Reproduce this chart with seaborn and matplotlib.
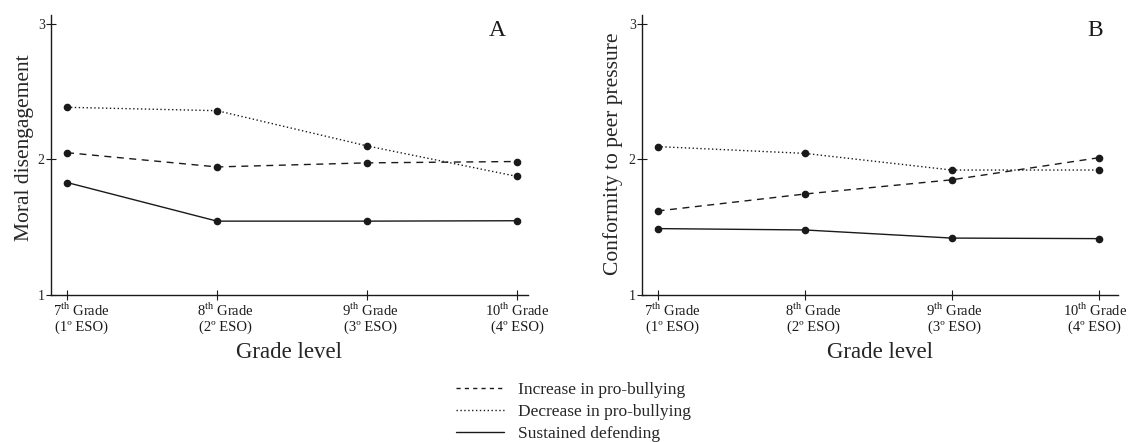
import pandas as pd
import seaborn as sns
import matplotlib.pyplot as plt
from matplotlib.lines import Line2D

# Valores
grades = [0, 1, 2, 3]
grade_labels = [r"7$^{\mathrm{th}}$ Grade" + "\n(1º ESO)",
                r"8$^{\mathrm{th}}$ Grade" + "\n(2º ESO)",
                r"9$^{\mathrm{th}}$ Grade" + "\n(3º ESO)",
                r"10$^{\mathrm{th}}$ Grade" + "\n(4º ESO)"]
groups = ["Increase in pro-bullying", "Decrease in pro-bullying", "Sustained defending"]

moral_increase = [2.05, 1.945, 1.975, 1.985]
moral_decrease = [2.385, 2.36, 2.10, 1.875]
moral_defend = [1.83, 1.545, 1.545, 1.548]

conf_increase = [1.62, 1.745, 1.85, 2.013]
conf_decrease = [2.095, 2.045, 1.922, 1.922]
conf_defend = [1.49, 1.48, 1.42, 1.416]


def to_long(series):
    rows = []
    for g, vals in zip(groups, series):
        for x, v in zip(grades, vals):
            rows.append({"grade": x, "value": v, "group": g})
    return pd.DataFrame(rows)


df_a = to_long([moral_increase, moral_decrease, moral_defend])
df_b = to_long([conf_increase, conf_decrease, conf_defend])

sns.set_theme(style="ticks")
plt.rcParams['font.family'] = ['Liberation Serif', 'DejaVu Serif']
plt.rcParams['mathtext.fontset'] = 'custom'
plt.rcParams['mathtext.rm'] = 'Liberation Serif'

ink = "#1a1a1a"
dashes = {groups[0]: (5, 4), groups[1]: (1, 1.8), groups[2]: ""}
markers = {g: "o" for g in groups}

fig = plt.figure(figsize=(11.29, 4.42), dpi=100)
# ejes colocados en píxeles: A 51-528, B 642-1118, y de 15 a 295
ax_a = fig.add_axes([51 / 1129, 1 - 295 / 442, 477 / 1129, 280 / 442])
ax_b = fig.add_axes([642 / 1129, 1 - 295 / 442, 476 / 1129, 280 / 442])

# (ejes, datos, etiqueta y, letra, xlim, x letra, posición etiqueta y, desplaz. etiquetas x en px)
panels = [(ax_a, df_a, "Moral disengagement", "A", (-0.107, 3.073), 0.935, (-0.036, 0.527), [14, 8, 3, 0]),
          (ax_b, df_b, "Conformity to peer pressure", "B", (-0.106, 3.13), 0.952, (-0.039, 0.505), [15, 9, 3, -4])]

for ax, df, ylab, letter, xlim, letter_x, ylab_pos, shifts in panels:
    sns.lineplot(data=df, x="grade", y="value", style="group", style_order=groups,
                 dashes=dashes, markers=markers, color=ink, linewidth=1.0,
                 markersize=5.5, markeredgewidth=0, legend=False, ax=ax)
    ax.set_xlim(*xlim)
    ax.set_ylim(1, 3.066)
    ax.set_xticks(grades)
    ax.set_xticklabels([])
    for g, lab, dx in zip(grades, grade_labels, shifts):
        ax.annotate(lab, xy=(g, 0), xycoords=("data", "axes fraction"),
                    xytext=(dx / 1.389, -4.5), textcoords="offset points",
                    ha="center", va="top", fontsize=10.5, linespacing=1.15, color=ink)
    ax.set_yticks([1, 2, 3])
    ax.set_yticklabels(["1", "2", "3"], fontsize=10)
    ax.tick_params(direction="inout", length=7, width=0.8, color=ink, pad=1)
    ax.set_xlabel("Grade level", fontsize=16.5)
    ax.xaxis.set_label_coords(0.5, -0.168)
    ax.set_ylabel(ylab, fontsize=15.5)
    ax.yaxis.set_label_coords(*ylab_pos)
    for s in ["top", "right"]:
        ax.spines[s].set_visible(False)
    for s in ["left", "bottom"]:
        ax.spines[s].set_color(ink)
        ax.spines[s].set_linewidth(1.0)
    ax.text(letter_x, 1 - 15 / 280, letter, transform=ax.transAxes, fontsize=17,
            ha="center", va="center", color=ink)

handles = [Line2D([], [], color=ink, lw=1.0, dashes=(3, 3)),
           Line2D([], [], color=ink, lw=1.0, dashes=(1, 1.8)),
           Line2D([], [], color=ink, lw=1.0)]
fig.legend(handles, groups, loc="upper left", bbox_to_anchor=(0.404, 0.1368),
           frameon=False, fontsize=12.5, handlelength=2.76, handletextpad=0.8,
           labelspacing=0.34, borderpad=0, borderaxespad=0)

fig.savefig("out.png", dpi=100)
plt.close()
